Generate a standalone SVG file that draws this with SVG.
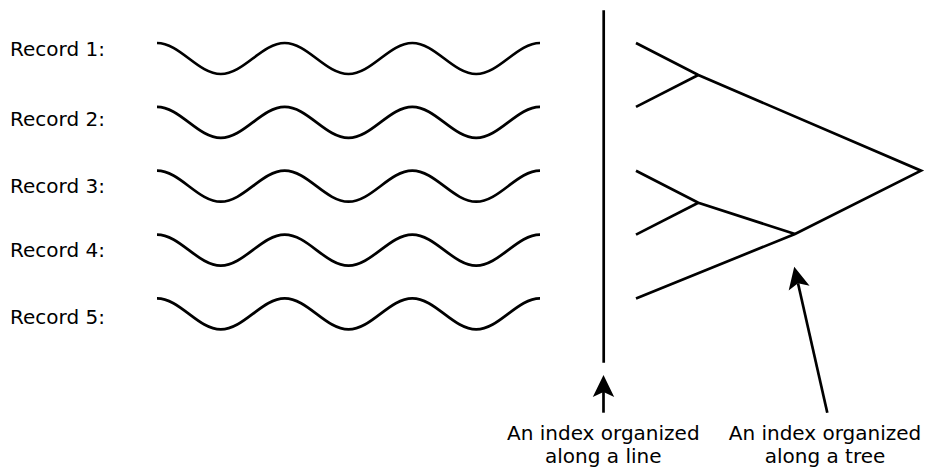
<svg xmlns="http://www.w3.org/2000/svg" xmlns:xlink="http://www.w3.org/1999/xlink" width="927" height="468" viewBox="0 0 927 468">
<style>
text{font-family:"DejaVu Sans","Noto Sans",sans-serif;font-size:20px;fill:#000}
.s{fill:none;stroke:#000;stroke-width:2.7}
.c{text-anchor:middle}
</style>
<defs>
<path id="wave" class="s" d="M157,0 C180,0 197.8,31 220.8,31 C243.8,31 261.7,0 284.7,0 C307.6,0 325.5,31 348.5,31 C371.5,31 389.3,0 412.3,0 C435.3,0 453.2,31 476.2,31 C499.2,31 517,0 540,0"/>
<marker id="ah" markerUnits="userSpaceOnUse" markerWidth="40" markerHeight="40" refX="0" refY="0" orient="auto" overflow="visible">
<path d="M17,0 L-5,-10.7 L0,0 L-5,10.7 Z" fill="#000"/>
</marker>
</defs>
<g id="record1"><text x="10" y="55.7">Record 1:</text><use xlink:href="#wave" transform="translate(0,43)"/></g>
<g id="record2"><text x="10" y="126">Record 2:</text><use xlink:href="#wave" transform="translate(0,106.9)"/></g>
<g id="record3"><text x="10" y="193">Record 3:</text><use xlink:href="#wave" transform="translate(0,170.7)"/></g>
<g id="record4"><text x="10" y="257">Record 4:</text><use xlink:href="#wave" transform="translate(0,234.6)"/></g>
<g id="record5"><text x="10" y="324">Record 5:</text><use xlink:href="#wave" transform="translate(0,298.4)"/></g>
<g id="line-index"><line class="s" x1="603.7" y1="10.3" x2="603.7" y2="362.7"/></g>
<g id="tree-index">
<polyline class="s" points="636,43 698.3,75 921,170.7 795,234 636,298.4"/>
<polyline class="s" points="636,106.9 698.3,75"/>
<polyline class="s" points="636,170.7 698.3,202.7 795,234"/>
<polyline class="s" points="636,234.6 698.3,202.7"/>
</g>
<g id="label-line"><text class="c" x="603.3" y="440">An index organized</text><text class="c" x="603.3" y="463">along a line</text></g>
<g id="label-tree"><text class="c" x="825" y="440">An index organized</text><text class="c" x="825" y="463">along a tree</text></g>
<g id="connectors">
<line class="s" x1="603.5" y1="412.7" x2="603.5" y2="392" marker-end="url(#ah)"/>
<line class="s" x1="827.3" y1="412.7" x2="798" y2="283.3" marker-end="url(#ah)"/>
</g>
</svg>
